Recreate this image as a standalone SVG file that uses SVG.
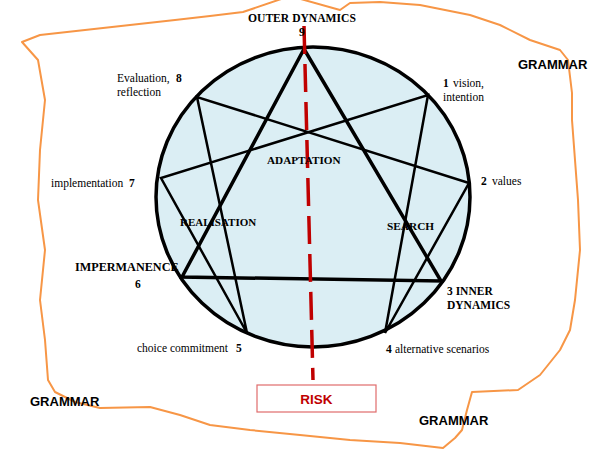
<svg xmlns="http://www.w3.org/2000/svg" width="600" height="450" viewBox="0 0 600 450">
<style>
.s{font-family:"Liberation Serif","Times New Roman",serif;font-size:11.5px;fill:#000}
.b{font-weight:bold}
.g{font-family:"Liberation Sans",Arial,sans-serif;font-size:13px;font-weight:bold;fill:#000}
.tri{stroke:#000;stroke-width:3.5;fill:none;stroke-linejoin:miter}
.hex{stroke:#000;stroke-width:2.5;fill:none;stroke-linejoin:miter}
</style>
<rect width="600" height="450" fill="#fff"/>
<path id="boundary" d="M22,42 L40,35 L85,30 L130,25 L175,20 L210,16 L243,12 L290,-4 L340,10 L350,3 L380,2 L420,5 L470,15 L500,25 L530,40 L560,50 L568,60 L572,93 L572,120 L575,160 L578,200 L580,250 L575,300 L570,330 L560,350 L540,375 L518,390 L472,392 L467,410 L462,430 L455,438 L443,448 L400,443 L350,440 L300,435 L250,430 L210,425 L180,415 L150,407 L100,408 L75,402 L55,392 L48,380 L45,340 L40,300 L45,250 L38,200 L40,150 L45,100 L38,60 Z" fill="none" stroke="#f79646" stroke-width="2" stroke-linejoin="round"/>
<g id="enneagram">
<ellipse cx="313" cy="197" rx="157" ry="150" fill="#dbeef4" stroke="#000" stroke-width="3.5"/>
</g>
<g id="connectors">
<polygon class="tri" points="304,49 441,281 182,277"/>
<polygon class="hex" points="428,95 385,333 469,183 197,97 247,333 161,178"/>
<line x1="304" y1="26" x2="313" y2="380" stroke="#c00000" stroke-width="3.5" stroke-dasharray="28 10"/>
</g>
<g id="n9"><text class="s b" x="248" y="22" style="font-size:11.6px">OUTER DYNAMICS</text><text class="s b" x="299" y="36">9</text></g>
<g id="n8"><text class="s" x="117" y="82">Evaluation, <tspan class="b" x="176">8</tspan></text><text class="s" x="117" y="96">reflection</text></g>
<g id="n1"><text class="s" x="443" y="87"><tspan class="b">1</tspan><tspan x="453">vision,</tspan></text><text class="s" x="443" y="101">intention</text></g>
<g id="n2"><text class="s" x="481" y="185"><tspan class="b">2</tspan><tspan x="492">values</tspan></text></g>
<g id="n7"><text class="s" x="51" y="187">implementation <tspan class="b" x="129">7</tspan></text></g>
<g id="adaptation"><text class="s b" x="267" y="164" style="font-size:11.2px">ADAPTATION</text></g>
<g id="realisation"><text class="s b" x="180" y="226" style="font-size:11px">REALISATION</text></g>
<g id="search"><text class="s b" x="387" y="230" style="font-size:11.3px">SEARCH</text></g>
<g id="n6"><text class="s b" x="75" y="271" style="font-size:12.2px">IMPERMANENCE</text><text class="s b" x="135" y="288">6</text></g>
<g id="n3"><text class="s b" x="447" y="295">3 INNER</text><text class="s b" x="447" y="309">DYNAMICS</text></g>
<g id="n5"><text class="s" x="137" y="352">choice commitment <tspan class="b" x="236">5</tspan></text></g>
<g id="n4"><text class="s" x="386" y="353"><tspan class="b">4</tspan><tspan x="395">alternative scenarios</tspan></text></g>
<g id="grammar"><text class="g" x="518" y="69">GRAMMAR</text><text class="g" x="30" y="406">GRAMMAR</text><text class="g" x="419" y="425">GRAMMAR</text></g>
<g id="risk"><rect x="257" y="385" width="119" height="27" fill="#fff" stroke="#e06c6c" stroke-width="1.2"/><text x="316.5" y="404" text-anchor="middle" style="font-family:'Liberation Sans',Arial,sans-serif;font-size:13.5px;font-weight:bold;fill:#c00000">RISK</text></g>
</svg>
